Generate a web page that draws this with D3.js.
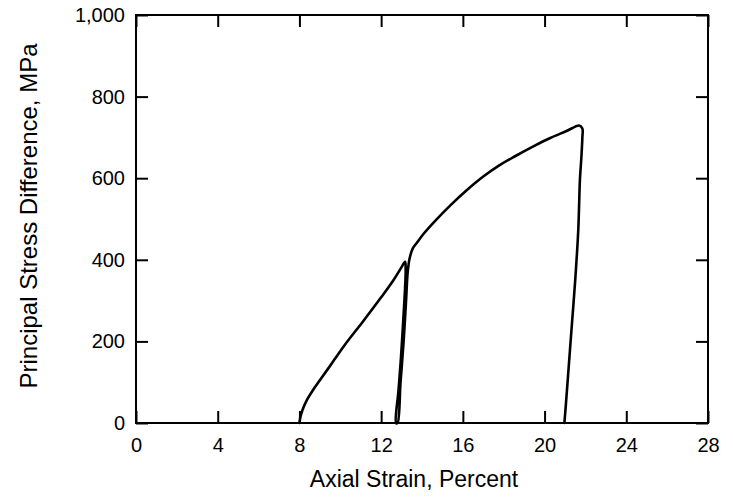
<!DOCTYPE html>
<html>
<head>
<meta charset="utf-8">
<script src="https://cdn.jsdelivr.net/npm/d3@7"></script>
<style>
  body { margin: 0; background: #fff; }
  text { font-family: "Liberation Sans", Arial, sans-serif; fill: #000; }
</style>
</head>
<body>
<script>
// strain (percent) and stress difference (MPa), in drawing order:
// first loading, unloading, reloading, final unloading
const strain = [8.0, 8.05, 8.15, 8.35, 8.68, 9.0, 9.5, 10.2, 11.13, 12.0, 12.6, 13.0, 13.17,
  13.2, 13.17, 13.08, 12.97, 12.85, 12.73,
  12.8, 12.95, 13.1, 13.22, 13.3, 13.4, 13.55, 13.75, 14.1, 14.6, 15.4, 16.2, 17.0, 17.8, 18.6, 19.45, 20.25, 21.05, 21.7,
  21.85, 21.85, 21.8, 21.73, 21.65, 21.5, 21.35, 21.2, 21.05, 20.97];
const stress = [0, 15, 32, 55, 82, 105, 140, 190, 250, 308, 350, 382, 395,
  378, 330, 250, 160, 80, 0,
  0, 100, 200, 300, 370, 405, 428, 442, 465, 493, 534, 571, 604, 632, 655, 678, 698, 715, 729,
  722, 700, 650, 596, 473, 350, 250, 150, 50, 0];

const xTicks = [0, 4, 8, 12, 16, 20, 24, 28];
const yTicks = [0, 200, 400, 600, 800, 1000];

const W = 733, H = 497;
const margin = { left: 136, top: 15, right: 25, bottom: 74 };
const w = W - margin.left - margin.right;
const h = H - margin.top - margin.bottom;

const svg = d3.select('body').append('svg')
  .attr('width', W).attr('height', H);
const g = svg.append('g').attr('transform', `translate(${margin.left},${margin.top})`);

const x = d3.scaleLinear().domain([0, 28]).range([0, w]);
const y = d3.scaleLinear().domain([0, 1000]).range([h, 0]);

const TICK = 12;

// bottom axis with labels, ticks pointing in
g.append('g').attr('class', 'axis')
  .attr('transform', `translate(0,${h})`)
  .call(d3.axisBottom(x).tickValues(xTicks).tickSizeInner(-TICK).tickSizeOuter(0).tickPadding(15));
// top axis, ticks only
g.append('g').attr('class', 'axis')
  .call(d3.axisTop(x).tickValues(xTicks).tickSizeInner(-TICK).tickSizeOuter(0).tickFormat(''));
// left axis with labels
g.append('g').attr('class', 'axis')
  .call(d3.axisLeft(y).tickValues(yTicks).tickSizeInner(-TICK).tickSizeOuter(0).tickPadding(11)
    .tickFormat(d3.format(',')));
// right axis, ticks only
g.append('g').attr('class', 'axis')
  .attr('transform', `translate(${w},0)`)
  .call(d3.axisRight(y).tickValues(yTicks).tickSizeInner(-TICK).tickSizeOuter(0).tickFormat(''));

g.selectAll('.axis .domain').remove();
g.selectAll('.axis line').attr('stroke', '#000').attr('stroke-width', 2);
g.selectAll('.axis text').style('font-size', '20px').attr('fill', '#000');

// frame
g.append('rect')
  .attr('x', 0).attr('y', 0).attr('width', w).attr('height', h)
  .attr('fill', 'none').attr('stroke', '#000').attr('stroke-width', 2);

// curve
const line = d3.line()
  .curve(d3.curveCatmullRom.alpha(0.5))
  .x(function (d, i) { return x(strain[i]); })
  .y(function (d, i) { return y(stress[i]); });

g.append('path')
  .datum(strain)
  .attr('d', line)
  .attr('fill', 'none')
  .attr('stroke', '#000')
  .attr('stroke-width', 2.6)
  .attr('stroke-linejoin', 'round')
  .attr('stroke-linecap', 'round');

// axis titles
svg.append('text')
  .attr('x', margin.left + w / 2 - 8)
  .attr('y', 487)
  .attr('text-anchor', 'middle')
  .style('font-size', '23px')
  .text('Axial Strain, Percent');

svg.append('text')
  .attr('transform', `translate(37,216) rotate(-90)`)
  .attr('text-anchor', 'middle')
  .style('font-size', '24px')
  .text('Principal Stress Difference, MPa');
</script>
</body>
</html>
